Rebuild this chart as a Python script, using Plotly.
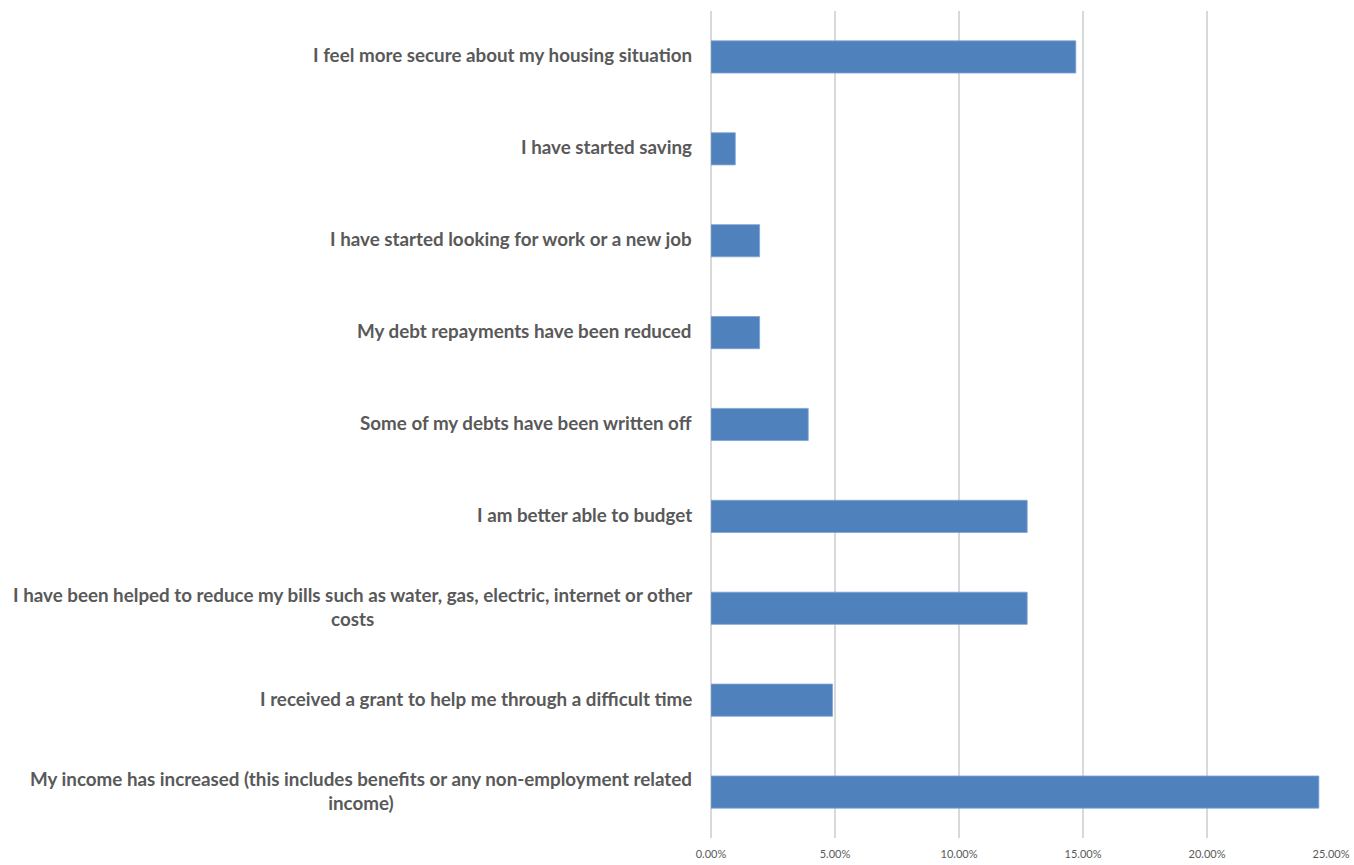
import plotly.graph_objects as go

# Survey outcomes, listed bottom-to-top as drawn on the category axis
categories = [
    "My income has increased (this includes benefits or any non-employment related<br>income)",
    "I received a grant to help me through a difficult time",
    "I have been helped to reduce my bills such as water, gas, electric, internet or other<br>costs",
    "I am better able to budget",
    "Some of my debts have been written off",
    "My debt repayments have been reduced",
    "I have started looking for work or a new job",
    "I have started saving",
    "I feel more secure about my housing situation",
]
shares = [0.2451, 0.0490, 0.1275, 0.1275, 0.0392, 0.0196, 0.0196, 0.0098, 0.1471]

tick_values = [0, 0.05, 0.10, 0.15, 0.20, 0.25]
tick_labels = ["0.00%", "5.00%", "10.00%", "15.00%", "20.00%", "25.00%"]

BAR_COLOR = "#4f81bd"
TEXT_COLOR = "#595959"
GRID_COLOR = "#d9d9d9"
LABEL_FONT = "Lato"

fig = go.Figure(
    go.Bar(
        x=shares,
        y=categories,
        orientation="h",
        marker=dict(color=BAR_COLOR, line=dict(color="#7ea3d4", width=0.8)),
        hoverinfo="skip",
    )
)

# Category labels as centred, right-anchored annotations so wrapped lines centre
for cat in categories:
    fig.add_annotation(
        x=0, y=cat, xref="paper", yref="y",
        text=cat, showarrow=False,
        xanchor="right", yanchor="middle", align="center",
        xshift=-17, yshift=2,
        font=dict(family=LABEL_FONT, size=18.8, color=TEXT_COLOR, weight="bold"),
    )

fig.update_layout(
    width=1354, height=865,
    margin=dict(l=711, r=23, t=11, b=27, autoexpand=False),
    paper_bgcolor="white", plot_bgcolor="white",
    bargap=0.65,
    showlegend=False,
    xaxis=dict(
        range=[0, 0.25],
        tickvals=tick_values, ticktext=tick_labels,
        showgrid=True, gridcolor=GRID_COLOR, gridwidth=1.5,
        zeroline=True, zerolinecolor=GRID_COLOR, zerolinewidth=1.5,
        showline=False, ticks="",
        automargin=False,
        tickfont=dict(family=LABEL_FONT, size=11, color=TEXT_COLOR),
        ticklabelstandoff=8,
    ),
    yaxis=dict(
        showticklabels=False, showgrid=False, zeroline=False,
        showline=False, ticks="", automargin=False,
        range=[-0.5, len(categories) - 0.5],
    ),
)

fig.write_html("out.html")
